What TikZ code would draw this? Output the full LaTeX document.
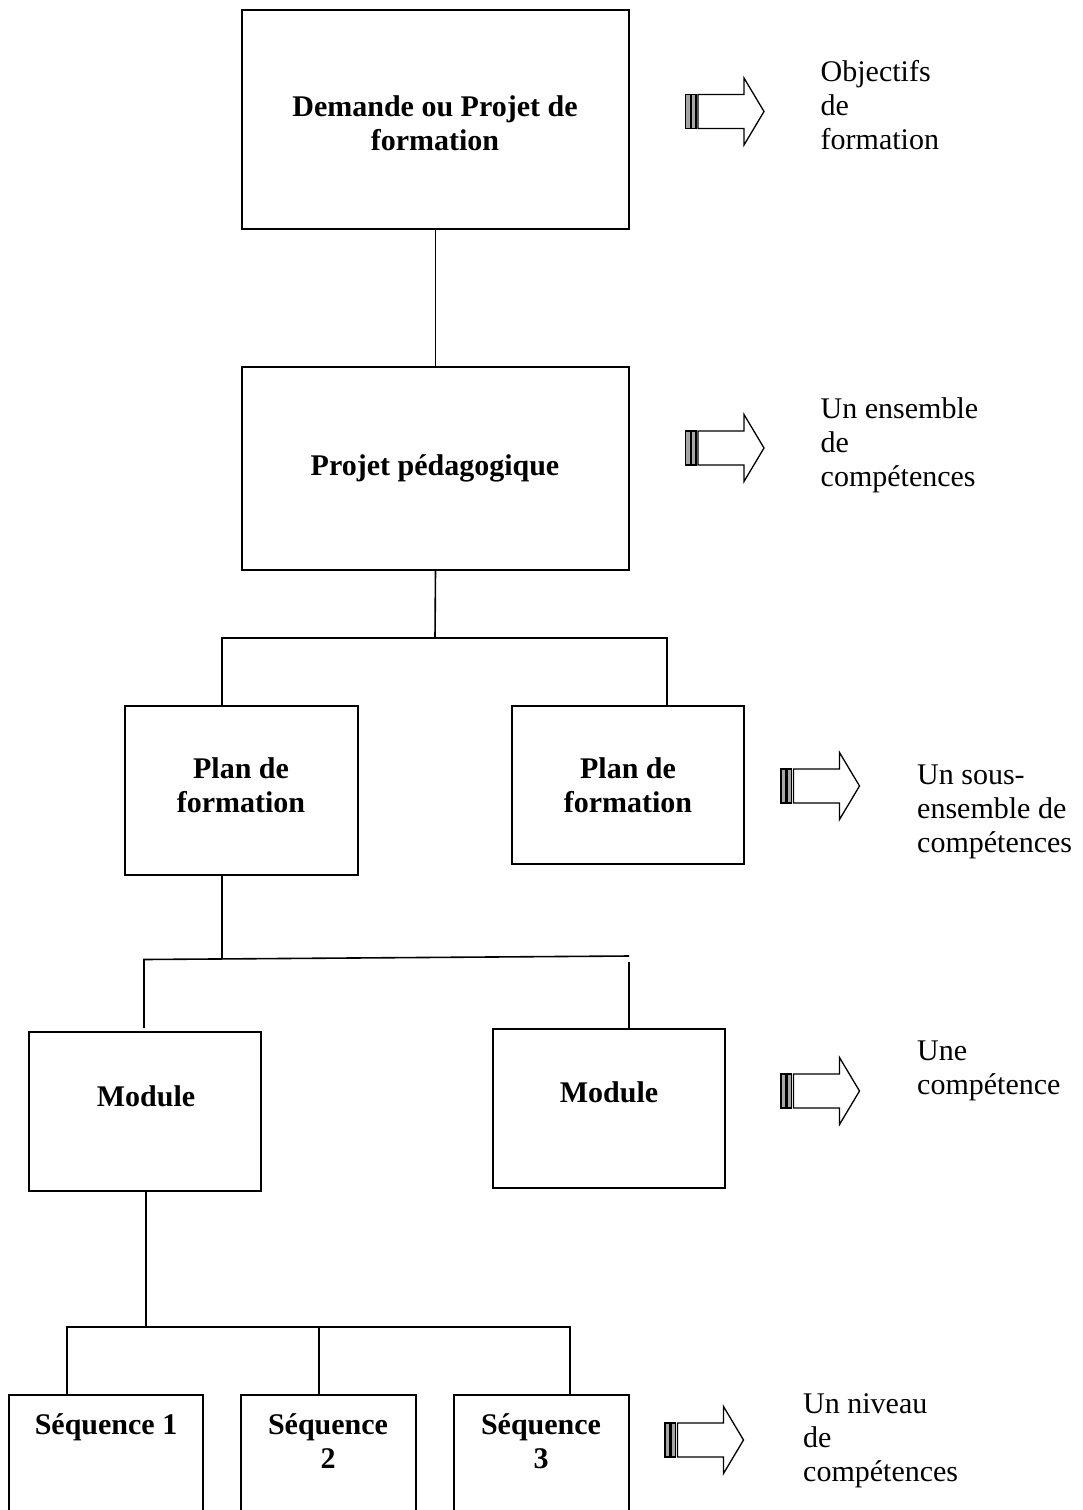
\documentclass[tikz,border=0pt]{standalone}
\usepackage{fontspec}
\setmainfont{Liberation Serif}
\begin{document}
\begin{tikzpicture}[x=1pt,y=-1pt,
  box/.style={draw=black, line width=1.6pt, rectangle, inner sep=0pt, outer sep=0pt},
  boxtext/.style={font=\fontsize{30}{34}\selectfont\bfseries, align=center, anchor=base, inner sep=0pt},
  sidetext/.style={font=\fontsize{30}{34}\selectfont, align=left, anchor=base west, inner sep=0pt},
  wire/.style={draw=black, line width=1.6pt},
  fatarrow/.pic={
    \draw[line width=1.3pt, fill=gray!70] (0,-17) rectangle (5,17);
    \draw[line width=1.3pt, fill=gray!70] (6,-17) rectangle (10.5,17);
    \draw[line width=1.3pt, line join=miter]
      (12.5,-17) -- (58.5,-17) -- (58.5,-33.5) -- (78.5,0) -- (58.5,33.5)
      -- (58.5,17) -- (12.5,17) -- cycle;
  }]
\useasboundingbox (0,0) rectangle (1082,1510);
\clip (0,0) rectangle (1082,1510);

% boxes
\node[box, minimum width=387pt, minimum height=219pt] (b1) at (435.5,119.5) {};
\node[box, minimum width=387pt, minimum height=203pt] (b2) at (435.5,468.5) {};
\node[box, minimum width=233pt, minimum height=169pt] (b3) at (241.5,790.5) {};
\node[box, minimum width=232pt, minimum height=158pt] (b4) at (628,785) {};
\node[box, minimum width=232pt, minimum height=159pt] (b5) at (145,1111.5) {};
\node[box, minimum width=232pt, minimum height=159pt] (b6) at (609,1108.5) {};
\node[box, minimum width=194pt, minimum height=150pt] (b7) at (106,1470) {};
\node[box, minimum width=175pt, minimum height=150pt] (b8) at (328.5,1470) {};
\node[box, minimum width=175pt, minimum height=150pt] (b9) at (541.5,1470) {};

% box texts (anchor: baseline of the last line)
\node[boxtext] (t1) at (435,150) {Demande ou Projet de\\formation};
\node[boxtext] (t2) at (435,475) {Projet pédagogique};
\node[boxtext] (t3) at (241,812) {Plan de\\formation};
\node[boxtext] (t4) at (628,812) {Plan de\\formation};
\node[boxtext] (t5) at (146,1106) {Module};
\node[boxtext] (t6) at (609,1102) {Module};
\node[boxtext] (t7) at (106,1434) {Séquence 1};
\node[boxtext] (t8) at (328,1468) {Séquence\\2};
\node[boxtext] (t9) at (541,1468) {Séquence\\3};

% side arrows
\pic at (685.5,111.5) {fatarrow};
\pic at (685.5,448) {fatarrow};
\pic at (781,786) {fatarrow};
\pic at (781,1091) {fatarrow};
\pic at (665,1440) {fatarrow};

% side texts (anchor: baseline of the last line)
\node[sidetext] (s1) at (820.5,149) {Objectifs\\de\\formation};
\node[sidetext] (s2) at (820.5,486) {Un ensemble\\de\\compétences};
\node[sidetext] (s3) at (917,852) {Un sous-\\ensemble de\\compétences};
\node[sidetext] (s4) at (917,1094) {Une\\compétence};
\node[sidetext] (s5) at (803,1481) {Un niveau\\de\\compétences};

% junction points
\coordinate (j1) at (435,638);
\coordinate (j1l) at (222,638);
\coordinate (j1r) at (667,638);
\coordinate (j2) at (222,958);
\coordinate (j2l) at (144,959.5);
\coordinate (j2r) at (629,956);
\coordinate (j2le) at (144,1028);
\coordinate (j2rs) at (629,962);
\coordinate (j3) at (146,1327);
\coordinate (j3l) at (67,1327);
\coordinate (j3m) at (319,1327);
\coordinate (j3r) at (570,1327);

% connectors
\draw[wire] (b1.south) -- (b2.north);
\draw[wire] (b2.south) -- (j1);
\draw[wire] (j1l |- b3.north) -- (j1l) -- (j1r) -- (j1r |- b4.north);
\draw[wire] (j2 |- b3.south) -- (j2);
\draw[wire] (j2le) -- (j2l) -- (j2r);
\draw[wire] (j2rs) -- (j2rs |- b6.north);
\draw[wire] (j3 |- b5.south) -- (j3);
\draw[wire] (j3l |- b7.north) -- (j3l) -- (j3r) -- (j3r |- b9.north);
\draw[wire] (j3m) -- (j3m |- b8.north);
\end{tikzpicture}
\end{document}
